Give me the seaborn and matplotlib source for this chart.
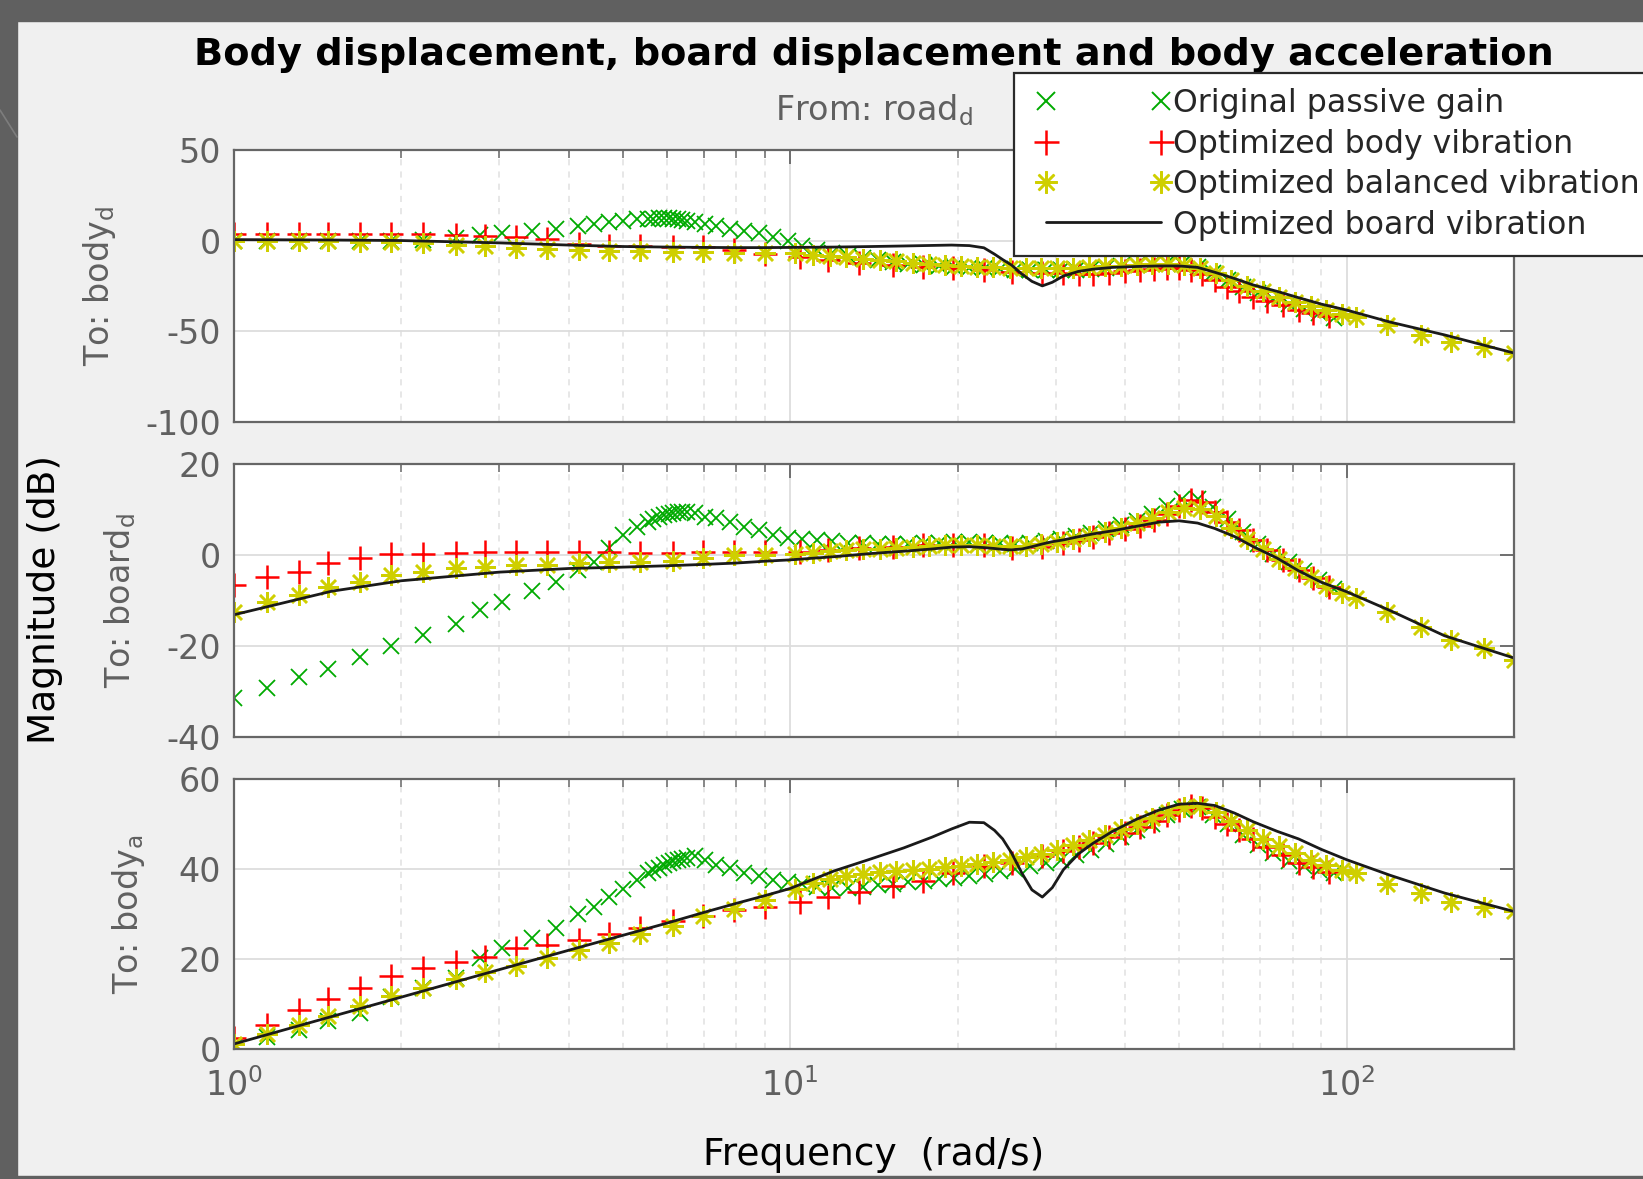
import numpy as np
import pandas as pd
import matplotlib
matplotlib.use("Agg")
import matplotlib.pyplot as plt
import seaborn as sns
from matplotlib.lines import Line2D
from matplotlib.legend_handler import HandlerLine2D
from matplotlib.ticker import LogLocator, NullFormatter, NullLocator
from matplotlib.patches import Rectangle

# ---------------- data ----------------
outputs = ["To: body$_{d}$", "To: board$_{d}$", "To: body$_{a}$"]
y_ticks = [[-100, -50, 0, 50], [-40, -20, 0, 20], [0, 20, 40, 60]]
series_labels = ["Original passive gain", "Optimized body vibration",
                 "Optimized balanced vibration", "Optimized board vibration"]

# Original passive gain (green x)
green_freq = [1.0, 1.15, 1.31, 1.48, 1.69, 1.92, 2.19, 2.51, 2.77, 3.03, 3.44, 3.80, 4.16,
              4.45, 4.72, 5.01, 5.31, 5.55, 5.68, 5.81, 5.93, 6.05, 6.16, 6.28, 6.40, 6.53,
              6.74, 7.04, 7.36, 7.81, 8.28, 8.79, 9.33, 9.9, 10.5, 11.2, 11.9, 12.7, 13.5,
              14.4, 15.3, 16.3, 17.4, 18.5, 19.7, 21.0, 22.4, 23.8, 25.4, 27.0, 28.8, 30.7,
              32.7, 34.8, 37.0, 39.4, 42.0, 44.7, 47.6, 50.7, 54.0, 57.5, 61.2, 65.2, 69.4,
              73.9, 78.7, 83.8, 89.2, 95.0]
green_body_d = [-0.5, -0.5, -0.5, -0.5, -0.3, 0.0, 0.3, 1.2, 2.8, 4.3, 5.3, 6.5, 7.8,
                9.0, 10.0, 10.8, 11.6, 12.0, 12.1, 12.2, 12.2, 12.2, 12.1, 11.9, 11.5, 11.0,
                10.3, 9.0, 7.9, 6.5, 5.2, 3.9, 1.7, -0.5, -3.0, -5.0, -7.0, -8.5, -9.8,
                -11.0, -12.0, -12.8, -13.5, -14.0, -14.5, -15.0, -15.4, -15.7, -16.0, -16.2, -16.3, -16.2,
                -16.0, -15.6, -15.0, -14.3, -13.6, -13.0, -12.6, -13.0, -14.5, -18.0, -22.0, -25.5, -29.0,
                -32.0, -34.8, -37.5, -40.0, -42.5]
green_board_d = [-31.5, -29.2, -26.8, -25.1, -22.5, -20.0, -17.6, -15.2, -12.1, -10.3, -7.9, -5.9, -3.3,
                 -1.5, 1.5, 4.4, 6.2, 7.3, 7.8, 8.4, 8.8, 9.1, 9.2, 9.4, 9.5, 9.5,
                 9.2, 8.4, 8.1, 7.3, 6.2, 5.5, 4.4, 3.7, 3.5, 3.3, 3.0, 2.7, 2.6,
                 2.5, 2.5, 2.5, 2.6, 2.7, 2.8, 2.8, 2.7, 2.6, 2.5, 2.6, 3.0, 3.6,
                 4.2, 4.9, 5.7, 6.6, 7.5, 9.0, 10.8, 12.3, 12.2, 10.5, 7.8, 5.0, 2.5,
                 0.3, -1.6, -3.5, -5.5, -7.5]
green_body_a = [0.5, 2.7, 4.2, 6.1, 8.0, 11.5, 13.6, 15.8, 20.1, 22.3, 24.6, 26.9, 29.9,
                31.4, 33.7, 35.6, 37.5, 39.0, 39.6, 40.2, 40.8, 41.3, 41.7, 42.0, 42.2, 42.4,
                42.8, 42.0, 40.9, 40.2, 39.0, 38.3, 37.5, 37.1, 36.5, 36.0, 35.8, 35.8, 36.0,
                36.3, 36.6, 37.0, 37.3, 37.6, 38.0, 38.4, 38.9, 39.4, 40.0, 40.6, 41.2, 42.0,
                43.0, 44.2, 45.5, 47.0, 48.5, 50.0, 51.8, 53.3, 53.6, 52.0, 49.8, 47.5, 45.3,
                43.5, 41.8, 40.6, 39.8, 39.0]

# Optimized body vibration (red +)
red_freq = [1.0, 1.15, 1.31, 1.48, 1.69, 1.92, 2.19, 2.51, 2.83, 3.22, 3.65, 4.17, 4.73,
            5.38, 6.17, 6.97, 7.94, 9.0, 10.4, 11.7, 13.3, 15.3, 17.3, 19.6, 22.3, 25.0,
            28.4, 31.0, 33.0, 35.0, 37.5, 40.0, 42.5, 45.0, 47.5, 50.0, 52.5, 55.0, 58.0,
            61.0, 64.0, 68.0, 72.0, 77.0, 82.0, 87.0, 93.0]
red_body_d = [3.8, 3.8, 3.8, 3.8, 3.7, 3.6, 3.5, 3.3, 2.4, 1.7, 0.6, -1.7, -2.9,
              -2.9, -3.3, -3.8, -5.0, -7.2, -8.9, -10.7, -12.6, -13.4, -14.8, -15.3, -16.2, -17.1,
              -17.7, -18.1, -18.3, -18.2, -17.7, -17.0, -16.4, -15.7, -15.3, -15.3, -16.0, -18.5, -22.0,
              -25.5, -28.0, -31.0, -33.3, -35.8, -38.3, -40.0, -41.5]
red_board_d = [-6.6, -4.8, -3.7, -1.8, -0.7, 0.1, 0.3, 0.5, 0.6, 0.6, 0.6, 0.6, 0.6,
               0.5, 0.5, 0.6, 0.6, 0.6, 0.7, 1.1, 1.5, 1.8, 2.1, 2.2, 2.1, 1.5,
               1.8, 2.6, 3.2, 3.9, 4.8, 5.6, 6.4, 7.6, 9.0, 10.8, 12.0, 11.6, 9.5,
               7.3, 5.5, 3.3, 1.1, -1.1, -3.3, -5.1, -7.0]
red_body_a = [2.5, 5.3, 8.7, 11.1, 13.6, 16.1, 18.0, 19.3, 20.5, 22.5, 23.0, 24.2, 25.5,
              26.9, 28.3, 29.5, 30.8, 31.4, 32.6, 33.7, 34.8, 36.1, 37.3, 39.0, 40.5, 41.3,
              42.8, 43.9, 44.8, 45.8, 47.0, 48.0, 49.2, 50.5, 51.9, 53.0, 54.0, 53.5, 51.5,
              50.0, 48.5, 46.5, 44.8, 43.0, 41.3, 40.3, 39.3]

# Optimized balanced vibration (yellow *)
yellow_freq = [1.0, 1.15, 1.31, 1.48, 1.69, 1.92, 2.19, 2.51, 2.83, 3.22, 3.65, 4.17, 4.73,
               5.38, 6.17, 6.97, 7.94, 9.0, 10.2, 11.0, 11.8, 12.6, 13.5, 14.5, 15.5, 16.6,
               17.8, 19.0, 20.3, 21.7, 23.2, 24.8, 26.5, 28.3, 30.2, 32.3, 34.5, 36.8, 39.3,
               42.0, 44.8, 47.8, 51.0, 54.5, 58.2, 62.1, 66.3, 70.8, 75.6, 80.7, 86.2, 92.0,
               98.2, 104, 118, 136, 154, 177, 200]
yellow_body_d = [0.0, -0.2, -0.3, -0.5, -0.7, -1.0, -1.5, -2.3, -3.0, -4.0, -4.8, -5.2, -5.5,
                 -5.8, -6.2, -6.5, -6.7, -6.8, -7.0, -7.8, -8.6, -9.3, -10.0, -10.8, -11.5, -12.3,
                 -13.0, -13.5, -14.0, -14.4, -14.7, -15.0, -15.2, -15.3, -15.3, -15.0, -14.6, -14.2, -13.8,
                 -13.4, -13.2, -13.2, -13.5, -15.0, -18.0, -21.5, -25.0, -28.0, -31.0, -33.8, -36.3, -38.5,
                 -40.5, -42.0, -46.5, -52.0, -55.7, -58.5, -62.0]
yellow_board_d = [-12.6, -10.4, -8.8, -7.0, -5.9, -4.4, -3.7, -2.9, -2.6, -2.3, -2.2, -1.8, -1.5,
                  -1.5, -1.3, -0.7, -0.1, -0.1, 0.2, 0.5, 0.8, 1.0, 1.2, 1.4, 1.6, 1.8,
                  2.0, 2.1, 2.2, 2.2, 2.0, 1.9, 2.0, 2.4, 2.9, 3.5, 4.2, 5.0, 5.9,
                  7.0, 8.2, 9.4, 10.3, 10.2, 8.5, 6.0, 3.5, 1.2, -0.8, -2.8, -4.8, -6.8,
                  -8.3, -9.5, -12.6, -15.8, -18.7, -20.5, -23.1]
yellow_body_a = [1.1, 3.4, 5.3, 7.3, 9.5, 11.7, 13.6, 15.5, 17.0, 18.4, 20.1, 22.0, 23.5,
                 25.4, 27.3, 29.5, 31.1, 33.0, 35.5, 36.8, 37.8, 38.4, 38.9, 39.2, 39.5, 39.7,
                 40.0, 40.3, 40.6, 41.0, 41.5, 42.0, 42.6, 43.3, 44.2, 45.2, 46.3, 47.5, 48.8,
                 50.0, 51.3, 52.6, 53.6, 53.8, 52.5, 50.5, 48.5, 46.6, 45.0, 43.5, 42.0, 40.8,
                 39.8, 39.0, 36.5, 34.5, 32.7, 31.4, 30.5]

# Optimized board vibration (black line)
black_freq = [1, 1.5, 2, 3, 4, 5, 6, 7, 8, 9, 10, 12, 14, 16, 18, 19.5, 21, 22.3, 23.3, 24.1,
              25.0, 26.1, 27.2, 28.4, 29.6, 31.0, 33, 35, 38, 42, 46, 50, 54, 58, 63, 68, 75,
              82, 90, 100, 120, 150, 200]
black_body_d = [0.5, 0.3, 0.0, -1.3, -2.5, -3.3, -3.6, -3.8, -3.9, -3.9, -3.8, -3.6, -3.3, -3.0,
                -2.7, -2.5, -2.8, -4.0, -7.5, -10.5, -13.5, -18.5, -22.5, -25.0, -23.0, -19.5,
                -17.0, -15.8, -14.8, -14.3, -14.0, -14.0, -14.8, -17.5, -21.0, -24.5, -28.0,
                -31.5, -35.0, -38.3, -45.0, -52.0, -62.0]
black_board_d = [-13.2, -8.0, -5.7, -3.8, -3.0, -2.7, -2.4, -2.1, -1.8, -1.4, -1.1, -0.4, 0.3, 0.8,
                 1.3, 1.7, 1.8, 1.6, 1.4, 1.2, 1.1, 1.3, 1.8, 2.4, 2.9, 3.3, 4.0, 4.6, 5.3, 6.3,
                 7.2, 7.5, 7.0, 5.8, 4.0, 1.8, -0.7, -3.5, -6.0, -8.1, -12.3, -17.8, -22.7]
black_body_a = [1.1, 7.2, 11.5, 17.6, 21.9, 25.2, 27.9, 30.3, 32.3, 34.0, 35.6, 39.5, 42.2, 44.6,
                47.0, 48.8, 50.3, 50.2, 48.5, 46.6, 43.5, 39.0, 35.3, 33.7, 35.8, 39.8, 43.3,
                45.6, 48.3, 51.0, 53.0, 54.3, 54.5, 54.0, 52.3, 50.4, 48.3, 46.6, 44.3, 42.0,
                38.5, 34.6, 30.5]

# ---------------- style ----------------
sns.set_theme(style="white")
plt.rcParams["font.family"] = ["DejaVu Sans"]
plt.rcParams["axes.unicode_minus"] = False
plt.rcParams["mathtext.default"] = "regular"

GREEN = "#00aa00"
RED = "#ff0000"
YELLOW = "#cfcf00"
BLACK = "#1a1a1a"
GRAY_TXT = "#606060"
AX_COL = "#666666"
ASTER = (8, 2, 0)

W, H = 1643, 1179
fig = plt.figure(figsize=(W / 100, H / 100), dpi=100, facecolor="#f0f0f0")


def fx(px):
    return px / W


def fy(py):
    return 1 - py / H


# dark frame around the slide
fig.patches.append(Rectangle((0, fy(21)), 1, 21 / H, transform=fig.transFigure,
                             color="#606060", zorder=0))
fig.patches.append(Rectangle((0, 0), 17 / W, 1, transform=fig.transFigure,
                             color="#606060", zorder=0))
fig.patches.append(Rectangle((0, 0), 1, 3 / H, transform=fig.transFigure,
                             color="#606060", zorder=0))
fig.lines.append(Line2D([0, fx(17)], [fy(110), fy(137)], transform=fig.transFigure,
                        color="#7d7d7d", lw=1.2))

left, right = 233.7, 1514.0
tops = [149.8, 464.0, 778.5]
bottoms = [422.0, 736.6, 1049.0]

green_mags = [green_body_d, green_board_d, green_body_a]
red_mags = [red_body_d, red_board_d, red_body_a]
yellow_mags = [yellow_body_d, yellow_board_d, yellow_body_a]
black_mags = [black_body_d, black_board_d, black_body_a]

axes = []
for i in range(3):
    ax = fig.add_axes([fx(left), fy(bottoms[i]), (right - left) / W,
                       (bottoms[i] - tops[i]) / H])
    ax.set_facecolor("white")

    dg = pd.DataFrame({"f": green_freq, "m": green_mags[i]})
    dr = pd.DataFrame({"f": red_freq, "m": red_mags[i]})
    dy = pd.DataFrame({"f": yellow_freq, "m": yellow_mags[i]})
    dk = pd.DataFrame({"f": black_freq, "m": black_mags[i]})

    sns.lineplot(data=dg, x="f", y="m", ax=ax, estimator=None, sort=False, legend=False,
                 color=GREEN, marker="x", markersize=12, markeredgewidth=1.3,
                 markeredgecolor=GREEN, linestyle="")
    sns.lineplot(data=dr, x="f", y="m", ax=ax, estimator=None, sort=False, legend=False,
                 color=RED, marker="+", markersize=17, markeredgewidth=1.8,
                 markeredgecolor=RED, linestyle="")
    sns.lineplot(data=dy, x="f", y="m", ax=ax, estimator=None, sort=False, legend=False,
                 color=YELLOW, marker=ASTER, markersize=15, markeredgewidth=1.8,
                 markeredgecolor=YELLOW, linestyle="")
    sns.lineplot(data=dk, x="f", y="m", ax=ax, estimator=None, sort=False, legend=False,
                 color=BLACK, linewidth=2.0)

    ax.set_xscale("log")
    ax.set_xlim(1, 200)
    ax.set_ylim(y_ticks[i][0], y_ticks[i][-1])
    ax.set_yticks(y_ticks[i])
    ax.yaxis.set_minor_locator(NullLocator())
    ax.xaxis.set_major_locator(LogLocator(base=10, numticks=10))
    ax.xaxis.set_minor_locator(LogLocator(base=10, subs=np.arange(2, 10), numticks=20))
    ax.xaxis.set_minor_formatter(NullFormatter())

    ax.grid(True, which="major", color="#dddddd", linewidth=1.3, linestyle="-")
    ax.grid(True, which="minor", axis="x", color="#e0e0e0", linewidth=1.1,
            linestyle=(0, (4, 4)))
    ax.set_axisbelow(True)

    ax.tick_params(which="both", direction="in", top=True, right=True,
                   color=AX_COL, labelcolor=GRAY_TXT, labelsize=24, pad=9)
    ax.tick_params(which="major", length=10, width=1.3)
    ax.tick_params(which="minor", length=6, width=1.1)
    ax.tick_params(axis="x", pad=14)
    if i < 2:
        ax.tick_params(axis="x", labelbottom=False)
    for sp in ax.spines.values():
        sp.set_color(AX_COL)
        sp.set_linewidth(1.6)
    ax.set_xlabel("")
    ax.set_ylabel("")
    axes.append(ax)

# per-output labels
label_x = [109, 130, 138]
for i in range(3):
    yc = (tops[i] + bottoms[i]) / 2
    fig.text(fx(label_x[i]), fy(yc), outputs[i], rotation=90, rotation_mode="anchor",
             ha="center", va="baseline", fontsize=24, color=GRAY_TXT)

# titles and labels
xc = (left + right) / 2
fig.text(fx(xc), fy(65), "Body displacement, board displacement and body acceleration",
         ha="center", va="baseline", fontsize=27.5, fontweight="bold", color="black")
fig.text(fx(xc), fy(120), "From: road$_{d}$", ha="center", va="baseline",
         fontsize=24, color=GRAY_TXT)
fig.text(fx(45), fy((tops[0] + bottoms[2]) / 2), "Magnitude (dB)", rotation=90,
         ha="center", va="center", fontsize=27, color="black")
fig.text(fx(xc), fy(1165), "Frequency  (rad/s)", ha="center", va="baseline",
         fontsize=27, color="black")

# legend
handles = [
    Line2D([], [], color=GREEN, marker="x", linestyle="none", markersize=13,
           markeredgewidth=1.4, markeredgecolor=GREEN),
    Line2D([], [], color=RED, marker="+", linestyle="none", markersize=18,
           markeredgewidth=1.8, markeredgecolor=RED),
    Line2D([], [], color=YELLOW, marker=ASTER, linestyle="none", markersize=16,
           markeredgewidth=1.8, markeredgecolor=YELLOW),
    Line2D([], [], color=BLACK, linewidth=2.0),
]
leg = fig.legend(handles, series_labels, loc="upper left",
                 bbox_to_anchor=(fx(1014), fy(73)), borderaxespad=0,
                 frameon=True, fancybox=False, framealpha=1, facecolor="white",
                 edgecolor="#2a2a2a", fontsize=22.7, borderpad=0.48, labelspacing=0.3,
                 handlelength=4.72, handletextpad=-0.15, numpoints=2,
                 handler_map={Line2D: HandlerLine2D(numpoints=2, marker_pad=0.55)})
leg.get_frame().set_linewidth(1.6)

fig.savefig("out.png", dpi=100, facecolor=fig.get_facecolor())
